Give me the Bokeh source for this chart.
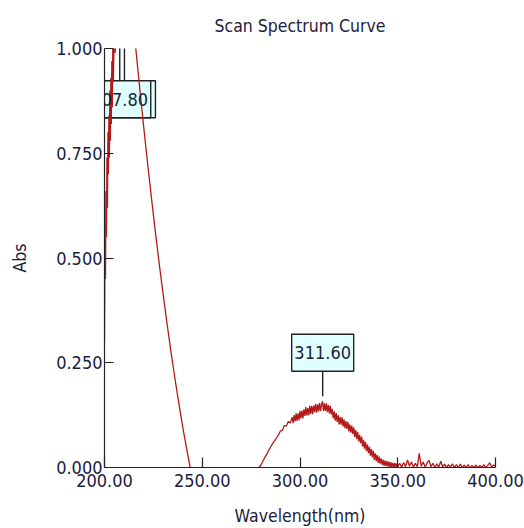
import numpy as np
from bokeh.plotting import figure
from bokeh.models import Range1d, FixedTicker, PrintfTickFormatter
from bokeh.core.properties import value
from bokeh.embed import file_html
from bokeh.resources import INLINE

# --- scan data -------------------------------------------------------------
# short-wavelength edge: saturated band below ~216 nm and its falling flank
edge_wl = [200.0, 200.25, 200.5, 200.75, 201.0, 201.25, 201.5, 201.75, 202.0,
           202.25, 202.5, 202.75, 203.0, 203.25, 203.5, 203.75, 204.0, 204.25,
           204.5, 205.0, 205.5, 206.0, 206.5, 207.0, 207.5, 207.8, 208.2, 208.6,
           209.0, 209.6, 210.2, 210.8, 211.5, 212.0, 213.0, 214.0, 215.0, 216.0,
           218.0, 220.0, 222.0, 224.0, 226.0, 228.0, 230.0, 232.0, 234.0, 236.0,
           238.0, 240.0, 242.0, 244.0, 246.0, 250.0, 255.0, 260.0, 265.0, 270.0,
           274.0, 277.0, 279.0]
edge_abs = [0.30, 0.55, 0.45, 0.66, 0.55, 0.74, 0.62, 0.80, 0.70,
            0.84, 0.74, 0.90, 0.78, 0.93, 0.82, 0.97, 0.86, 1.01,
            0.92, 1.04, 0.99, 1.10, 1.13, 1.17, 1.19, 1.21, 1.18, 1.16,
            1.15, 1.17, 1.19, 1.18, 1.17, 1.16, 1.13, 1.09, 1.05, 1.00,
            0.906, 0.815, 0.728, 0.644, 0.563, 0.486, 0.413, 0.343, 0.276, 0.213,
            0.154, 0.097, 0.045, -0.004, -0.05, -0.14, -0.24, -0.29, -0.25, -0.15,
            -0.06, -0.02, 0.0]

# rising side of the 311 nm band (1 nm steps)
rise_wl = np.arange(280.0, 296.0, 1.0)
rise_abs = [0.006, 0.015, 0.024, 0.032, 0.041, 0.049, 0.057, 0.064,
            0.071, 0.078, 0.087, 0.089, 0.100, 0.099, 0.110, 0.106]

# noisy top of the band (0.5 nm steps)
band_wl = np.arange(296.0, 350.01, 0.5)
band_abs = [0.120, 0.106, 0.125, 0.110, 0.129, 0.111, 0.129, 0.113, 0.135, 0.117,
            0.136, 0.117, 0.139, 0.123, 0.144, 0.124, 0.142, 0.125, 0.147, 0.128,
            0.147, 0.127, 0.148, 0.132, 0.152, 0.131, 0.151, 0.134, 0.154, 0.135,
            0.150, 0.158, 0.135, 0.153, 0.135, 0.153, 0.132, 0.149, 0.129, 0.147,
            0.126, 0.140, 0.118, 0.134, 0.112, 0.130, 0.109, 0.125, 0.103, 0.121,
            0.102, 0.120, 0.098, 0.115, 0.094, 0.111, 0.092, 0.109, 0.086, 0.103,
            0.083, 0.100, 0.080, 0.096, 0.073, 0.089, 0.068, 0.085, 0.062, 0.078,
            0.058, 0.074, 0.050, 0.066, 0.045, 0.061, 0.039, 0.055, 0.034, 0.050,
            0.028, 0.044, 0.024, 0.040, 0.018, 0.034, 0.015, 0.030, 0.011, 0.026,
            0.009, 0.022, 0.006, 0.019, 0.004, 0.017, 0.003, 0.015, 0.002, 0.014,
            0.001, 0.013, 0.001, 0.011, 0.000, 0.011, 0.001, 0.009, 0.002]

# baseline tail (1 nm steps)
tail_wl = np.arange(351.0, 401.0, 1.0)
tail_abs = [0.010, 0.001, 0.012, 0.002, 0.018, 0.003, 0.013, 0.001, 0.010, 0.002,
            0.034, 0.003, 0.013, 0.001, 0.011, 0.017, 0.002, 0.010, 0.000, 0.009,
            0.001, 0.015, 0.002, 0.008, -0.001, 0.007, 0.001, 0.009, -0.001, 0.007,
            0.000, 0.008, -0.001, 0.006, 0.000, 0.007, -0.002, 0.005, 0.000, 0.006,
            -0.001, 0.005, 0.000, 0.007, 0.000, 0.005, 0.011, 0.001, 0.006, 0.003]

# picked peaks
peak_wl = [207.8, 311.6]
peak_abs = [1.21, 0.158]
peak_text = ["207.80", "311.60"]
shoulder_wl = [210.2]
shoulder_abs = [1.19]

x_ticks = [200, 250, 300, 350, 400]
y_ticks = [0.0, 0.25, 0.5, 0.75, 1.0]

wl = np.concatenate([edge_wl, rise_wl, band_wl, tail_wl])
absorb = np.concatenate([edge_abs, rise_abs, band_abs, tail_abs])

# --- figure ----------------------------------------------------------------
FONT = "DejaVu Sans Condensed"
INK = "#1c1c3c"
Y_MIN, Y_MAX = 0.0, 1.0
FRAME_H = 421
BOX_W, BOX_H = 62, 37

p = figure(width=524, height=528,
           x_range=Range1d(200, 400), y_range=Range1d(Y_MIN, Y_MAX),
           output_backend="svg", toolbar_location=None,
           min_border_left=104, min_border_right=29,
           min_border_top=46, min_border_bottom=61,
           title="Scan Spectrum Curve")
p.outline_line_color = None
p.xgrid.visible = False
p.ygrid.visible = False
p.background_fill_color = "white"
p.border_fill_color = "white"

p.title.align = "center"
p.title.text_font = FONT
p.title.text_font_size = "17.5px"
p.title.text_font_style = "normal"
p.title.text_color = INK
p.title.standoff = 26

for ax in (p.xaxis[0], p.yaxis[0]):
    ax.axis_line_color = "#222222"
    ax.axis_line_width = 1.2
    ax.major_tick_line_color = "#222222"
    ax.major_tick_line_width = 1.2
    ax.major_tick_out = 0
    ax.minor_tick_in = 0
    ax.minor_tick_out = 0
    ax.major_label_text_font = FONT
    ax.major_label_text_font_size = "18px"
    ax.major_label_text_color = INK
    ax.axis_label_text_font = FONT
    ax.axis_label_text_font_size = "17.5px"
    ax.axis_label_text_font_style = "normal"
    ax.axis_label_text_color = INK

p.xaxis.ticker = FixedTicker(ticks=x_ticks)
p.xaxis.formatter = PrintfTickFormatter(format="%.2f")
p.xaxis.major_tick_in = 10
p.xaxis.major_label_standoff = 6
p.xaxis.axis_label = "Wavelength(nm)"
p.xaxis.axis_label_standoff = 16

p.yaxis.ticker = FixedTicker(ticks=y_ticks)
p.yaxis.formatter = PrintfTickFormatter(format="%.3f")
p.yaxis.major_tick_in = 9
p.yaxis.major_label_standoff = 2
p.yaxis.axis_label = "Abs"
p.yaxis.axis_label_standoff = 23

# label boxes: peaks beyond the top of the scale get a box near the top edge
half_box = (BOX_H / 2) / FRAME_H * (Y_MAX - Y_MIN)
def box_y(a):
    return 0.879 if a > Y_MAX else a + 0.116

def leader(a):
    by = box_y(a)
    if a > Y_MAX:
        return by + half_box, a
    return by - half_box, a + 0.012

all_wl = shoulder_wl + peak_wl
all_abs = shoulder_abs + peak_abs
p.rect(x=all_wl, y=[box_y(a) for a in all_abs], width=BOX_W, height=BOX_H,
       width_units="screen", height_units="screen",
       fill_color="#e0ffff", line_color="#222222", line_width=1.4)

p.line(wl, absorb, line_color="#b51818", line_width=1.3)

p.segment(x0=all_wl, y0=[leader(a)[0] for a in all_abs],
          x1=all_wl, y1=[leader(a)[1] for a in all_abs],
          line_color="#222222", line_width=1.4)

p.text(x=peak_wl, y=[box_y(a) for a in peak_abs], text=peak_text,
       text_align="center", text_baseline="middle",
       text_font=value(FONT), text_font_size="18px", text_color=INK)

open("out.html", "w").write(file_html(p, INLINE))
